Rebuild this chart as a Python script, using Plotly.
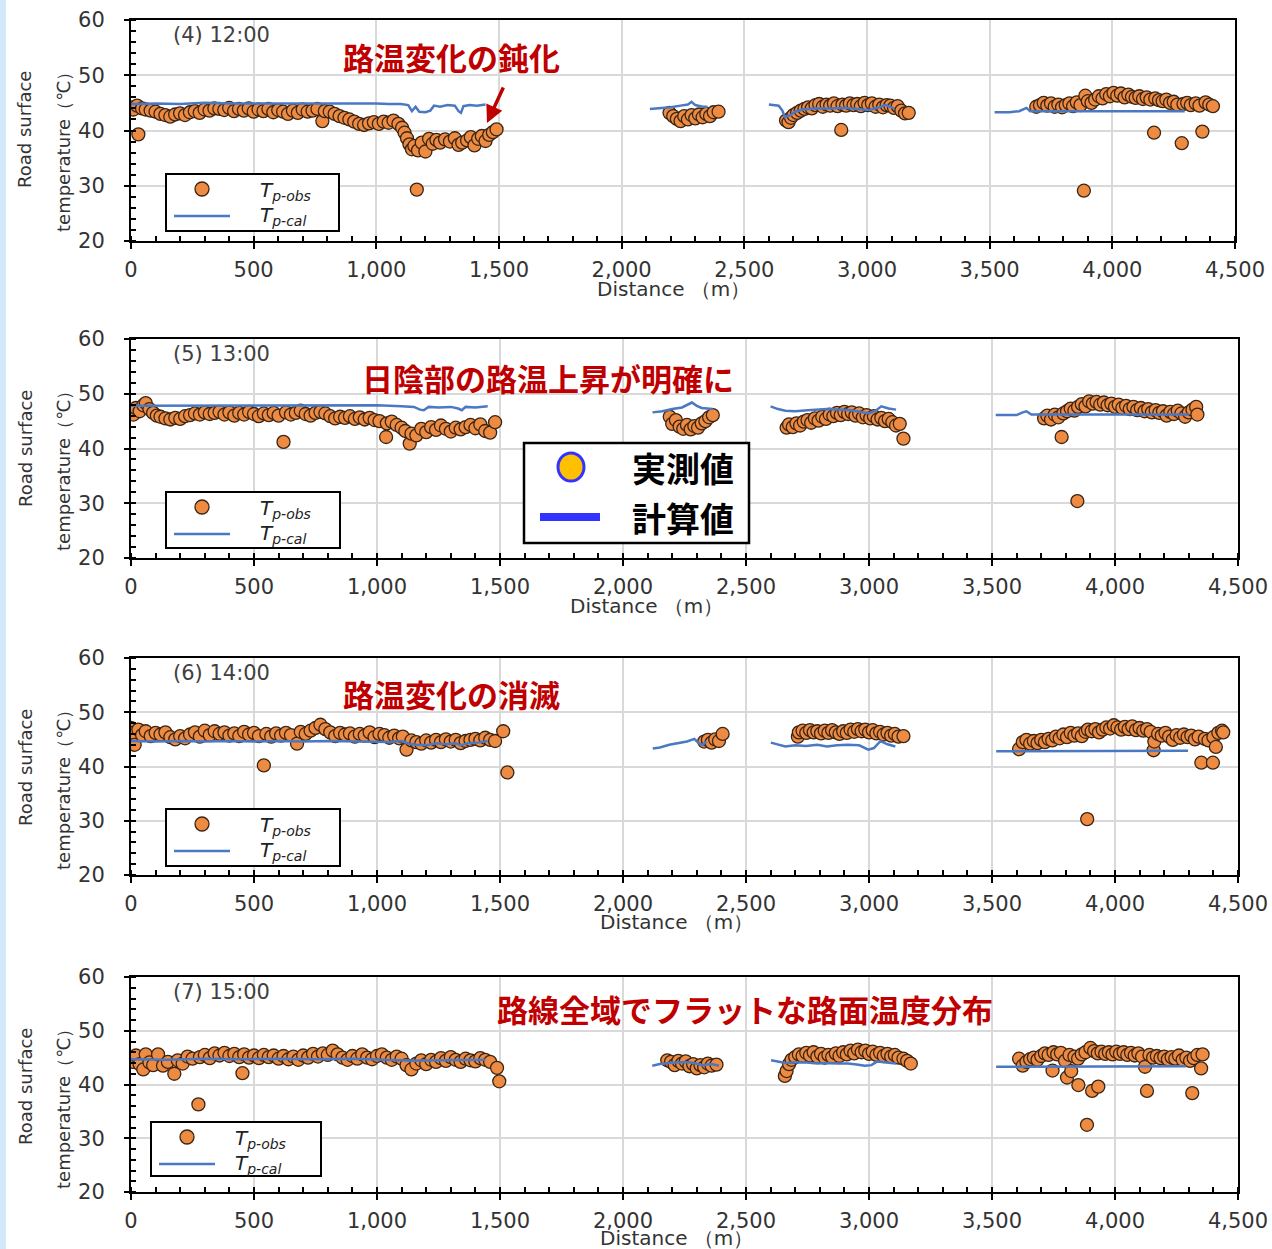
import plotly.graph_objects as go

W, H = 1272, 1249


def px(x):
    return x / W


def py(y):
    return 1 - y / H


# ---------------- data ----------------
# (4) 12:00
obs12_x = [0, 10, 25, 30, 45, 60, 80, 100, 120, 140, 160, 180, 200, 220, 240, 260, 280, 300, 320, 340,
           360, 380, 400, 420, 440, 460, 480, 500, 520, 540, 560, 580, 600, 620, 640, 660, 680, 700, 720, 740,
           760, 780, 790, 810, 830, 850, 870, 890, 910, 930, 950, 970, 990, 1010, 1030, 1050, 1070, 1090, 1105,
           1115, 1125, 1135, 1145, 1155, 1165, 1170, 1185, 1200, 1215, 1230, 1245, 1260, 1280, 1300, 1320, 1335,
           1350, 1370, 1385, 1400, 1415, 1430, 1445, 1460, 1475, 1490,
           2195, 2210, 2225, 2240, 2255, 2270, 2285, 2300, 2315, 2330, 2345, 2360, 2375, 2395,
           2670, 2680, 2690, 2700, 2715, 2730, 2745, 2760, 2775, 2790, 2805, 2820, 2835, 2850, 2865, 2880, 2895,
           2900, 2915, 2930, 2945, 2960, 2975, 2990, 3005, 3020, 3035, 3050, 3065, 3080, 3095, 3110, 3125, 3140,
           3155, 3170,
           3690, 3705, 3720, 3735, 3750, 3765, 3780, 3795, 3810, 3825, 3840, 3855, 3870, 3884, 3890, 3900, 3915,
           3930, 3945, 3960, 3975, 3990, 4005, 4020, 4035, 4050, 4065, 4080, 4095, 4110, 4125, 4140, 4155, 4170,
           4175, 4190, 4205, 4220, 4235, 4250, 4265, 4283, 4290, 4305, 4320, 4340, 4355, 4367, 4380, 4395, 4410]
obs12_y = [44.2, 43.8, 44.5, 39.3, 44.0, 43.8, 43.6, 43.4, 43.0, 42.8, 42.5, 42.9, 43.1, 42.8, 43.3, 43.5, 43.2,
           43.8, 43.6, 44.0, 43.9, 43.7, 44.1, 43.5, 43.9, 43.6, 44.0, 43.4, 43.8, 43.5, 43.9, 43.3, 43.7, 43.4,
           43.0, 43.6, 43.2, 43.8, 43.4, 43.6, 43.9, 41.7, 43.5, 43.4, 43.0, 42.6, 42.3, 42.0, 41.6, 41.2, 41.0,
           41.3, 41.5, 41.2, 41.6, 41.4, 41.8, 41.2, 40.5, 39.6, 38.6, 37.5, 36.6, 37.2, 29.3, 36.4, 37.8, 36.2,
           38.5, 37.6, 38.3, 37.8, 38.4, 38.0, 38.6, 37.4, 37.8, 38.2, 38.8, 37.3, 38.5, 39.0, 38.1, 39.2, 39.7,
           40.2,
           43.2, 42.6, 42.1, 41.7, 42.6, 42.0, 42.8, 42.2, 42.9, 42.4, 43.0, 42.6, 43.3, 43.4,
           41.8, 41.5, 42.3, 42.8, 43.2, 43.6, 43.9, 44.2, 44.0, 44.6, 44.8, 44.3, 44.7, 44.5, 44.9, 44.4, 40.1,
           44.7, 44.5, 44.9, 44.6, 44.8, 44.4, 45.0, 44.6, 44.9, 44.3, 44.7, 44.2, 44.6, 44.5, 44.1, 44.4, 43.6,
           43.1, 43.2,
           44.3, 44.6, 45.0, 44.5, 44.9, 44.3, 44.7, 44.2, 44.6, 44.9, 44.4, 45.1, 44.6, 29.1, 46.3, 45.3, 45.0,
           45.6, 46.2, 45.8, 46.6, 46.2, 46.8, 46.3, 46.7, 46.0, 46.5, 46.1, 45.9, 46.2, 45.7, 46.0, 45.6, 39.6,
           45.8, 45.5, 45.3, 45.6, 45.0, 45.2, 44.7, 37.7, 44.8, 45.0, 44.6, 44.9, 44.5, 39.8, 45.1, 44.7, 44.4]
cal12_x = [0, 100, 200, 300, 400, 500, 600, 700, 800, 900, 1000, 1050, 1100, 1130, 1145, 1160, 1175, 1200,
           1220, 1235, 1260, 1290, 1320, 1335, 1345, 1355, 1380, 1410, 1445, None,
           2115, 2160, 2200, 2240, 2270, 2285, 2300, 2330, 2350, None,
           2600, 2640, 2655, 2665, 2690, 2705, 2740, 2780, 2850, 2910, 2960, 3010, 3050, 3075, 3110, None,
           3520, 3580, 3620, 3640, 3650, 3665, 3700, 3800, 3900, 4000, 4100, 4200, 4295]
cal12_y = [44.8, 44.9, 44.8, 45.0, 44.9, 44.9, 45.0, 44.9, 44.9, 44.9, 44.9, 44.8, 44.8, 44.6, 43.5, 44.3,
           43.4, 43.3, 43.6, 44.5, 44.3, 44.6, 44.5, 43.5, 43.2, 44.4, 44.6, 44.5, 44.7, None,
           43.9, 44.0, 44.2, 44.5, 44.7, 45.2, 44.6, 44.3, 44.3, None,
           44.7, 44.5, 43.6, 42.4, 42.8, 43.4, 43.8, 44.0, 44.0, 44.1, 43.9, 43.7, 44.2, 44.6, 44.0, None,
           43.3, 43.3, 43.5, 44.0, 44.1, 43.5, 43.5, 43.5, 43.5, 43.5, 43.5, 43.5, 43.5]

# (5) 13:00
obs13_x = [0, 10, 20, 35, 50, 60, 75, 90, 105, 120, 140, 160, 180, 200, 220, 240, 260, 280, 300, 320, 340,
           360, 380, 400, 420, 440, 460, 480, 500, 520, 540, 560, 580, 600, 620, 630, 650, 670, 690, 710, 730,
           750, 770, 790, 810, 830, 850, 870, 890, 910, 930, 950, 970, 990, 1010, 1037, 1040, 1060, 1080, 1100,
           1115, 1133, 1140, 1160, 1180, 1200, 1220, 1240, 1260, 1280, 1300, 1320, 1340, 1360, 1380, 1400, 1420,
           1440, 1460, 1480,
           2190, 2200, 2215, 2230, 2245, 2260, 2275, 2290, 2305, 2320, 2335, 2350, 2365,
           2665, 2675, 2690, 2705, 2720, 2735, 2750, 2765, 2780, 2795, 2810, 2825, 2840, 2855, 2870, 2885, 2900,
           2915, 2930, 2945, 2960, 2975, 2990, 3005, 3020, 3035, 3050, 3065, 3080, 3095, 3110, 3125, 3140,
           3712, 3725, 3740, 3755, 3770, 3783, 3790, 3805, 3820, 3835, 3847, 3850, 3865, 3880, 3895, 3910, 3925,
           3940, 3955, 3970, 3985, 4000, 4015, 4030, 4045, 4060, 4075, 4090, 4105, 4120, 4135, 4150, 4165, 4180,
           4195, 4210, 4225, 4240, 4255, 4270, 4285, 4300, 4315, 4330, 4335]
obs13_y = [47.0, 46.2, 47.4, 46.8, 47.9, 48.3, 47.2, 46.5, 46.0, 45.8, 45.5, 45.3, 45.6, 45.4, 45.9, 46.1,
           46.4, 46.2, 46.6, 46.3, 46.5, 46.7, 46.2, 46.6, 46.0, 46.5, 46.2, 46.7, 46.3, 45.9, 46.4, 46.1, 46.5,
           46.0, 41.2, 46.6, 46.2, 46.5, 46.9, 46.3, 46.0, 46.5, 46.7, 46.4, 45.9, 45.5, 45.8, 45.6, 45.9, 45.4,
           45.7, 45.3, 45.6, 45.2, 45.0, 42.1, 44.6, 44.9, 44.3, 43.8, 43.2, 40.9, 42.7, 42.4, 43.6, 43.0, 43.9,
           43.4, 44.2, 43.6, 43.1, 43.8, 43.5, 43.9, 44.3, 43.7, 44.4, 43.2, 42.9, 44.8,
           45.8, 44.5, 45.2, 44.0, 43.6, 44.3, 43.5, 44.1, 43.8, 44.6, 45.0, 45.7, 46.1,
           43.8, 44.4, 43.9, 44.6, 44.2, 44.9, 45.2, 44.7, 45.5, 45.1, 45.8, 45.4, 46.2, 45.9, 46.5, 46.1, 46.7,
           46.3, 46.6, 46.0, 46.4, 45.7, 46.1, 45.5, 45.9, 45.3, 45.6, 45.0, 45.4, 44.8, 44.2, 44.5, 41.8,
           45.5, 46.0, 45.3, 46.2, 45.7, 42.1, 46.4, 46.8, 47.3, 46.9, 30.4, 47.6, 48.1, 47.7, 48.6, 48.2, 48.5,
           48.0, 48.4, 47.9, 48.2, 47.6, 48.0, 47.4, 47.8, 47.2, 47.6, 47.0, 47.4, 46.8, 47.2, 46.6, 47.0, 46.5,
           46.8, 46.0, 46.7, 46.3, 46.9, 46.4, 45.8, 46.6, 47.1, 47.6, 46.2]
cal13_x = [0, 100, 200, 300, 400, 500, 600, 700, 800, 900, 1000, 1100, 1150, 1175, 1190, 1210, 1250, 1300,
           1330, 1345, 1360, 1400, 1450, None,
           2120, 2160, 2200, 2240, 2280, 2300, 2320, 2365, None,
           2600, 2630, 2660, 2700, 2750, 2830, 2930, 2970, 3000, 3030, 3050, 3080, 3110, None,
           3515, 3600, 3625, 3640, 3660, 3700, 3800, 3900, 4000, 4100, 4200, 4300]
cal13_y = [47.8, 47.8, 47.9, 47.8, 47.9, 47.8, 47.9, 47.9, 47.8, 47.8, 47.9, 47.7, 47.6, 47.1, 47.0, 47.6,
           47.5, 47.6, 47.3, 47.0, 47.6, 47.5, 47.7, None,
           46.6, 46.8, 47.2, 47.5, 48.4, 47.8, 47.4, 47.2, None,
           47.7, 47.2, 46.9, 46.8, 47.0, 47.2, 47.0, 46.7, 46.4, 47.0, 47.7, 47.3, 47.1, None,
           46.1, 46.1, 46.6, 46.8, 46.2, 46.2, 46.3, 46.3, 46.3, 46.3, 46.2, 46.2]

# (6) 14:00
obs14_x = [0, 10, 15, 30, 45, 60, 80, 100, 120, 140, 160, 180, 200, 220, 240, 260, 280, 300, 320, 340, 360,
           380, 400, 420, 440, 460, 480, 500, 520, 540, 550, 570, 590, 610, 630, 650, 675, 690, 710, 730, 750,
           770, 790, 810, 830, 850, 870, 890, 910, 930, 950, 970, 990, 1010, 1030, 1050, 1070, 1090, 1105, 1120,
           1140, 1160, 1180, 1200, 1220, 1240, 1260, 1280, 1300, 1320, 1340, 1360, 1380, 1400, 1420, 1440, 1460,
           1480, 1513, 1530,
           2330, 2345, 2360, 2375, 2390, 2405,
           2711, 2715, 2730, 2745, 2760, 2775, 2790, 2805, 2820, 2835, 2850, 2865, 2880, 2895, 2910, 2925, 2940,
           2955, 2970, 2985, 3000, 3015, 3030, 3045, 3060, 3075, 3090, 3105, 3120, 3140,
           3610, 3625, 3640, 3655, 3670, 3685, 3700, 3715, 3730, 3745, 3760, 3775, 3790, 3805, 3820, 3835, 3850,
           3865, 3880, 3887, 3890, 3905, 3920, 3935, 3950, 3965, 3980, 3995, 4010, 4025, 4040, 4055, 4070, 4085,
           4100, 4115, 4130, 4145, 4157, 4160, 4175, 4190, 4205, 4220, 4235, 4250, 4265, 4280, 4295, 4310, 4325,
           4340, 4351, 4365, 4380, 4398, 4400, 4410, 4420, 4435, 4440]
obs14_y = [47.1, 46.2, 44.0, 46.8, 45.8, 46.5, 45.6, 46.2, 45.9, 46.3, 45.4, 45.0, 45.6, 45.2, 45.9, 46.3,
           45.5, 46.6, 45.8, 46.5, 46.0, 46.3, 45.7, 46.1, 45.6, 46.4, 45.9, 46.2, 45.6, 40.2, 46.0, 45.5, 46.1,
           45.7, 46.2, 45.8, 44.2, 46.4, 46.0, 46.6, 47.1, 47.7, 46.9, 46.3, 45.6, 46.2, 45.9, 46.1, 45.5, 46.0,
           45.7, 46.3, 45.4, 46.0, 45.8, 45.3, 45.7, 45.2, 45.5, 43.1, 44.8, 44.5, 44.2, 44.8, 44.4, 44.9, 44.5,
           45.0, 44.6, 44.9, 44.3, 44.7, 44.9, 45.1, 44.8, 45.3, 44.9, 44.7, 46.5, 38.9,
           44.6, 44.9, 44.4, 45.0, 44.7, 46.0,
           45.5, 46.3, 46.6, 46.2, 46.7, 46.3, 46.5, 46.1, 46.6, 46.2, 46.7, 46.3, 46.0, 46.5, 46.2, 46.8, 46.4,
           46.9, 46.5, 46.8, 46.3, 46.7, 46.1, 46.4, 45.9, 46.2, 45.7, 46.0, 45.5, 45.6,
           43.2, 44.5, 44.9, 44.2, 44.7, 44.3, 44.9, 44.5, 45.1, 44.8, 45.5, 45.2, 45.9, 45.4, 46.2, 45.7, 46.1,
           45.6, 46.4, 30.3, 46.8, 46.5, 46.9, 46.3, 46.8, 47.2, 47.0, 47.6, 47.2, 46.8, 47.3, 46.9, 47.4, 46.7,
           47.1, 46.6, 46.9, 46.4, 43.0, 44.6, 46.0, 45.7, 46.2, 45.5, 44.9, 45.8, 45.3, 45.9, 45.4, 45.7, 45.0,
           45.5, 40.7, 45.1, 44.8, 40.7, 45.4, 43.6, 46.2, 46.6, 46.3]
cal14_x = [0, 100, 200, 300, 400, 500, 600, 700, 800, 900, 1000, 1050, 1100, 1130, 1160, 1200, 1240, 1280,
           1320, 1340, 1370, 1410, 1450, None,
           2121, 2150, 2188, 2230, 2260, 2290, 2310, 2324, 2340, None,
           2601, 2630, 2660, 2700, 2744, 2790, 2829, 2870, 2913, 2960, 2997, 3020, 3047, 3075, 3107, None,
           3517, 3600, 3700, 3800, 3900, 4000, 4100, 4200, 4297]
cal14_y = [44.7, 44.6, 44.7, 44.6, 44.7, 44.6, 44.7, 44.6, 44.7, 44.6, 44.6, 44.5, 44.7, 44.2, 44.0, 43.9,
           44.3, 44.1, 44.3, 43.9, 44.3, 44.4, 44.7, None,
           43.3, 43.5, 44.0, 44.3, 44.6, 45.1, 44.2, 44.0, 44.6, None,
           44.4, 44.0, 43.7, 43.9, 43.8, 44.0, 43.7, 43.9, 44.0, 43.9, 43.1, 43.4, 44.7, 44.1, 43.7, None,
           42.8, 42.8, 42.9, 42.9, 42.9, 42.9, 42.9, 42.9, 42.9]

# (7) 15:00
obs15_x = [0, 10, 20, 35, 50, 60, 75, 90, 110, 130, 150, 176, 190, 210, 230, 250, 274, 280, 300, 320, 340,
           360, 380, 400, 420, 440, 453, 460, 480, 500, 520, 540, 560, 580, 600, 620, 640, 660, 680, 700, 720,
           740, 760, 780, 800, 820, 840, 860, 880, 900, 920, 940, 960, 980, 1000, 1020, 1040, 1060, 1080, 1100,
           1120, 1140, 1160, 1180, 1200, 1220, 1240, 1260, 1280, 1300, 1320, 1340, 1360, 1380, 1400, 1420, 1440,
           1460, 1488, 1497,
           2180, 2195, 2210, 2225, 2240, 2255, 2270, 2285, 2300, 2315, 2330, 2345, 2360, 2380,
           2658, 2665, 2675, 2685, 2700, 2715, 2730, 2745, 2760, 2775, 2790, 2805, 2820, 2835, 2850, 2865, 2880,
           2895, 2910, 2925, 2940, 2955, 2970, 2985, 3000, 3015, 3030, 3045, 3060, 3075, 3090, 3105, 3120, 3140,
           3155, 3170,
           3610, 3625, 3640, 3655, 3670, 3685, 3700, 3715, 3730, 3746, 3750, 3765, 3780, 3797, 3805, 3815, 3822,
           3835, 3850, 3851, 3865, 3880, 3886, 3900, 3907, 3915, 3930, 3932, 3945, 3960, 3975, 3990, 4005, 4020,
           4035, 4050, 4065, 4080, 4095, 4110, 4122, 4130, 4140, 4155, 4170, 4185, 4200, 4215, 4230, 4245, 4260,
           4275, 4290, 4305, 4314, 4320, 4335, 4350, 4356]
obs15_y = [44.9, 44.2, 45.4, 43.8, 42.8, 45.6, 44.1, 43.6, 45.6, 43.5, 44.2, 42.0, 44.5, 43.9, 45.2, 44.8,
           36.3, 45.1, 45.5, 44.9, 45.8, 45.4, 45.9, 45.3, 45.7, 45.1, 42.1, 45.6, 45.0, 45.4, 44.9, 45.5, 45.1,
           45.4, 44.8, 45.3, 44.7, 45.2, 44.6, 45.4, 45.0, 45.7, 45.2, 45.8, 45.5, 46.3, 45.6, 45.0, 44.6, 45.3,
           44.8, 45.6, 45.0, 44.7, 45.3, 45.6, 45.0, 44.6, 45.2, 44.8, 43.6, 42.8, 43.9, 44.5, 43.8, 44.6, 44.2,
           44.9, 44.4, 45.1, 44.6, 44.2, 44.8, 44.5, 44.3, 44.9, 44.6, 44.2, 43.1, 40.6,
           44.5, 44.2, 43.6, 44.4, 43.9, 44.3, 43.4, 43.8, 43.0, 43.6, 43.2, 43.9, 43.5, 43.7,
           41.6, 42.5, 43.8, 44.6, 45.1, 45.6, 45.3, 45.9, 45.4, 46.0, 45.2, 45.7, 45.0, 45.5, 45.1, 45.8, 45.3,
           46.0, 45.6, 46.3, 45.8, 46.5, 46.0, 46.3, 45.7, 46.1, 45.5, 45.9, 45.3, 45.7, 45.2, 45.5, 45.0, 44.8,
           44.4, 43.9,
           44.8, 43.5, 44.2, 44.7, 45.0, 44.6, 45.3, 45.8, 45.5, 42.6, 46.0, 45.6, 45.9, 44.4, 41.3, 45.5, 42.5,
           45.2, 44.8, 39.9, 45.6, 46.0, 32.5, 46.8, 38.8, 46.2, 45.8, 39.6, 46.1, 45.7, 46.0, 45.6, 46.1, 45.7,
           46.0, 45.5, 45.9, 45.4, 45.8, 45.2, 43.3, 38.8, 45.5, 45.0, 45.3, 44.9, 45.2, 44.7, 45.1, 44.8, 45.4,
           44.6, 45.0, 44.4, 38.4, 44.9, 45.5, 43.0, 45.6]
cal15_x = [0, 150, 300, 450, 600, 750, 900, 1050, 1150, 1250, 1350, 1440, None,
           2119, 2150, 2186, 2220, 2254, 2290, 2322, 2360, 2390, None,
           2602, 2630, 2661, 2700, 2746, 2790, 2831, 2870, 2915, 2950, 2983, 3010, 3034, 3070, 3110, None,
           3517, 3600, 3700, 3800, 3900, 4000, 4100, 4200, 4288]
cal15_y = [44.7, 44.6, 44.8, 44.7, 44.8, 44.7, 44.8, 44.6, 44.4, 44.5, 44.6, 44.6, None,
           43.5, 43.8, 44.0, 44.1, 44.2, 44.0, 43.6, 43.8, 43.5, None,
           44.5, 44.3, 44.0, 44.1, 44.1, 43.9, 44.0, 43.9, 43.9, 43.7, 43.5, 43.6, 44.3, 44.1, 43.9, None,
           43.3, 43.3, 43.3, 43.4, 43.4, 43.4, 43.4, 43.4, 43.4]

x_ticks = [0, 500, 1000, 1500, 2000, 2500, 3000, 3500, 4000, 4500]
x_tick_labels = ["0", "500", "1,000", "1,500", "2,000", "2,500", "3,000", "3,500", "4,000", "4,500"]
y_ticks = [20, 30, 40, 50, 60]

panel_labels = ["(4) 12:00", "(5) 13:00", "(6) 14:00", "(7) 15:00"]
notes = ["路温変化の鈍化", "日陰部の路温上昇が明確に", "路温変化の消滅", "路線全域でフラットな路面温度分布"]
obs_name = "<i>T</i><sub><i>p-obs</i></sub>"
cal_name = "<i>T</i><sub><i>p-cal</i></sub>"

# ---------------- layout geometry (pixels) ----------------
panels = [
    dict(ox=obs12_x, oy=obs12_y, cx=cal12_x, cy=cal12_y, top=20, bottom=241, right=1235,
         leg=(166, 174, 173, 57, 92), note=(451, 57), xt=(673, 289)),
    dict(ox=obs13_x, oy=obs13_y, cx=cal13_x, cy=cal13_y, top=339, bottom=558, right=1238,
         leg=(166, 492, 174, 56, 92), note=(548, 377), xt=(646, 606)),
    dict(ox=obs14_x, oy=obs14_y, cx=cal14_x, cy=cal14_y, top=658, bottom=875, right=1238,
         leg=(166, 809, 174, 57, 92), note=(451, 693), xt=(676, 922)),
    dict(ox=obs15_x, oy=obs15_y, cx=cal15_x, cy=cal15_y, top=977, bottom=1192, right=1238,
         leg=(151, 1122, 170, 54, 82), note=(745, 1008), xt=(676, 1238)),
]
LEFT = 131

FONT = "DejaVu Sans"
CJK = "Noto Sans CJK JP"
ORANGE = "#EE8B42"
BLUE = "#4A78C2"
RED = "#C00000"
DARK = "#3A2414"

fig = go.Figure()
annotations = []
shapes = []
layout = {}


def pshape(**kw):
    d = dict(xref="paper", yref="paper", layer="above")
    d.update(kw)
    return d


for i, p in enumerate(panels):
    n = i + 1
    sfx = "" if n == 1 else str(n)
    fig.add_trace(go.Scatter(
        x=p["ox"], y=p["oy"], mode="markers", name=obs_name, showlegend=False,
        xaxis=f"x{sfx}", yaxis=f"y{sfx}",
        marker=dict(size=13, color=ORANGE, line=dict(color=DARK, width=1.3)),
    ))
    fig.add_trace(go.Scatter(
        x=p["cx"], y=p["cy"], mode="lines", name=cal_name, showlegend=False,
        xaxis=f"x{sfx}", yaxis=f"y{sfx}", connectgaps=False,
        line=dict(color=BLUE, width=2.5),
    ))
    layout[f"xaxis{sfx}"] = dict(
        domain=[px(LEFT), px(p["right"])], anchor=f"y{sfx}", range=[0, 4500],
        tickvals=x_ticks, ticktext=x_tick_labels, automargin=False,
        showgrid=True, gridcolor="#D9D9D9", gridwidth=2,
        showline=True, linecolor="black", linewidth=2, mirror=True,
        ticks="outside", ticklen=6, tickwidth=2, tickcolor="black",
        minor=dict(dtick=100, ticks="inside", ticklen=5, tickwidth=1.5, tickcolor="black", showgrid=False),
        tickfont=dict(family=FONT, size=21, color="#333333"),
        ticklabelstandoff=3, zeroline=False,
    )
    layout[f"yaxis{sfx}"] = dict(
        domain=[py(p["bottom"]), py(p["top"])], anchor=f"x{sfx}", range=[20, 60],
        tickvals=y_ticks, automargin=False,
        showgrid=True, gridcolor="#D9D9D9", gridwidth=2,
        showline=True, linecolor="black", linewidth=2, mirror=True,
        ticks="outside", ticklen=5, tickwidth=2, tickcolor="black",
        minor=dict(dtick=2, ticks="inside", ticklen=5, tickwidth=1.5, tickcolor="black", showgrid=False),
        tickfont=dict(family=FONT, size=21, color="#333333"),
        ticklabelstandoff=15, zeroline=False,
    )
    top = p["top"]
    # key box (legend) per panel
    L, T, LW, LH, TX = p["leg"]
    shapes.append(pshape(type="rect", x0=px(L), x1=px(L + LW), y0=py(T + LH), y1=py(T),
                         line=dict(color="black", width=2), fillcolor="white"))
    shapes.append(pshape(type="circle", x0=px(L + 29), x1=px(L + 43), y0=py(T + 22), y1=py(T + 8),
                         line=dict(color=DARK, width=1.3), fillcolor=ORANGE))
    shapes.append(pshape(type="line", x0=px(L + 8), x1=px(L + 64), y0=py(T + 42), y1=py(T + 42),
                         line=dict(color=BLUE, width=2.5)))
    annotations.append(dict(x=px(L + TX), y=py(T + 17), xref="paper", yref="paper", text=obs_name,
                            showarrow=False, xanchor="left", yanchor="middle",
                            font=dict(family=FONT, size=20, color="#222222")))
    annotations.append(dict(x=px(L + TX), y=py(T + 42), xref="paper", yref="paper", text=cal_name,
                            showarrow=False, xanchor="left", yanchor="middle",
                            font=dict(family=FONT, size=20, color="#222222")))
    # panel label
    annotations.append(dict(x=px(171), y=py(top + 15), xref="paper", yref="paper", text=panel_labels[i],
                            showarrow=False, xanchor="left", yanchor="middle",
                            font=dict(family=FONT, size=21, color="#404040")))
    # red note
    annotations.append(dict(x=px(p["note"][0]), y=py(p["note"][1]), xref="paper", yref="paper",
                            text=f"<b>{notes[i]}</b>", showarrow=False, xanchor="center", yanchor="middle",
                            font=dict(family=CJK, size=31, color=RED)))
    # y titles
    annotations.append(dict(x=px(25), y=py(top + 110), xref="paper", yref="paper", text="Road surface",
                            showarrow=False, textangle=-90, xanchor="center", yanchor="middle",
                            font=dict(family=FONT, size=18, color="#333333")))
    annotations.append(dict(x=px(63), y=py(top + 128), xref="paper", yref="paper", text="temperature（℃）",
                            showarrow=False, textangle=-90, xanchor="center", yanchor="middle",
                            font=dict(family=FONT, size=18, color="#333333")))
    # x title
    annotations.append(dict(x=px(p["xt"][0]), y=py(p["xt"][1]), xref="paper", yref="paper",
                            text="Distance （m）", showarrow=False, xanchor="center", yanchor="middle",
                            font=dict(family=FONT, size=20, color="#333333")))

# red arrow in panel 1
annotations.append(dict(x=px(487), y=py(123), xref="paper", yref="paper", text="", showarrow=True,
                        ax=17, ay=-37, arrowhead=2, arrowsize=1, arrowwidth=3.5, arrowcolor=RED))

# big key box in panel 2
shapes.append(pshape(type="rect", x0=px(524), x1=px(749), y0=py(543), y1=py(443),
                     line=dict(color="black", width=2.5), fillcolor="white"))
shapes.append(pshape(type="circle", x0=px(558), x1=px(584), y0=py(481), y1=py(453),
                     line=dict(color="#3333FF", width=3), fillcolor="#FFC000"))
shapes.append(pshape(type="rect", x0=px(540), x1=px(600), y0=py(521), y1=py(513),
                     line=dict(width=0), fillcolor="#3333FF"))
annotations.append(dict(x=px(683), y=py(467), xref="paper", yref="paper", text="<b>実測値</b>", showarrow=False,
                        xanchor="center", yanchor="middle", font=dict(family=CJK, size=34, color="black")))
annotations.append(dict(x=px(683), y=py(517), xref="paper", yref="paper", text="<b>計算値</b>", showarrow=False,
                        xanchor="center", yanchor="middle", font=dict(family=CJK, size=34, color="black")))

# light blue strip on the left edge of the picture
shapes.append(dict(type="rect", xref="paper", yref="paper", x0=0, x1=px(6), y0=0, y1=1,
                   line=dict(width=0), fillcolor="#D3E8F8", layer="below"))

fig.update_layout(
    width=W, height=H, margin=dict(l=0, r=0, t=0, b=0, autoexpand=False),
    paper_bgcolor="white", plot_bgcolor="white",
    showlegend=False, annotations=annotations, shapes=shapes,
    font=dict(family=FONT),
    **layout,
)

post = (
    "var st=document.createElement('style');"
    "st.innerHTML='html,body{margin:0 !important;padding:0;overflow:hidden;}';"
    "document.head.appendChild(st);"
    "var gd=document.getElementById('{plot_id}');"
    "var w=window.innerWidth, h=window.innerHeight;"
    "if (w>0 && h>0 && (w!==1272 || h!==1249)) { Plotly.relayout(gd, {width:w, height:h}); }"
)

fig.write_html(
    "out.html",
    config={"displayModeBar": False},
    post_script=post,
)
